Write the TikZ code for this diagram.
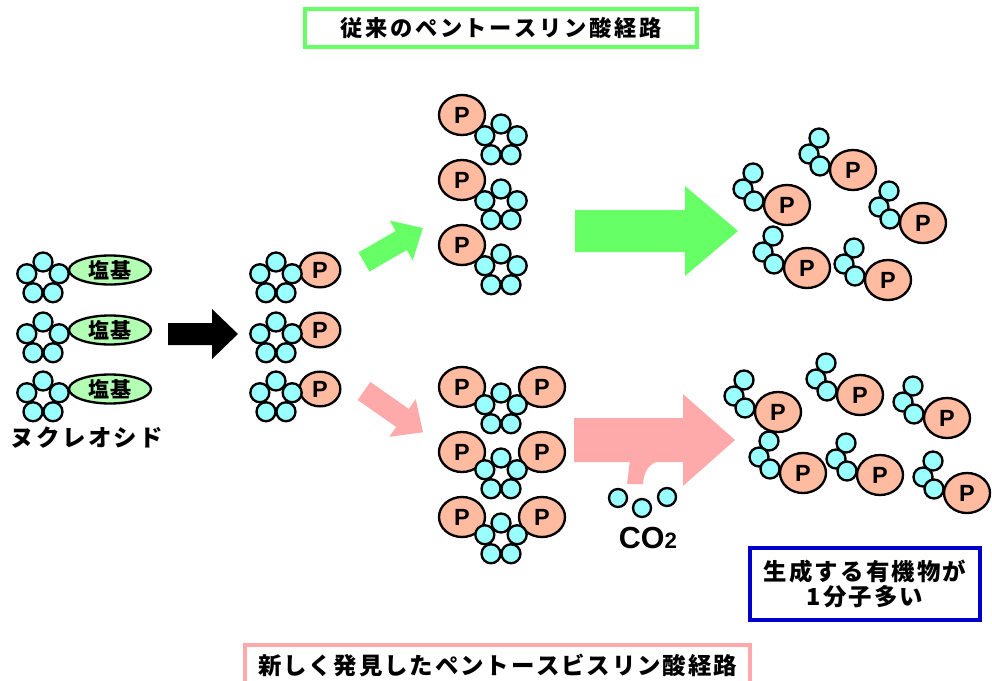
\documentclass[tikz,border=0pt]{standalone}
\usepackage{fontspec}
\setmainfont{Liberation Sans}
\newfontfamily\jpfont{Noto Sans CJK JP}[Kerning=Off]
\usetikzlibrary{shapes.geometric}

\definecolor{sugarbg}{HTML}{99FFFF}
\definecolor{basebg}{HTML}{B3FFB3}
\definecolor{phosbg}{HTML}{FFBBA0}
\definecolor{oldgreen}{HTML}{66FF66}
\definecolor{newpink}{HTML}{FFAAAA}
\definecolor{noteblue}{HTML}{0000CC}

\tikzset{
  sugar/.style={circle, draw, line width=2pt, fill=sugarbg,
                minimum size=0.57cm, inner sep=0pt},
  phos/.style={ellipse, draw, line width=2pt, fill=phosbg,
               minimum width=1.38cm, minimum height=1.2cm, inner sep=0pt,
               font=\fontsize{20}{20}\selectfont\bfseries},
  phossmall/.style={phos, minimum width=1.22cm, minimum height=1.04cm},
  nucbase/.style={ellipse, draw, line width=2pt, fill=basebg,
                  minimum width=2.46cm, minimum height=0.87cm, inner sep=0pt,
                  font=\jpfont\bfseries\fontsize{18}{18}\selectfont},
  labelbox/.style={draw, line width=3pt, fill=white, inner sep=0pt,
                   align=center},
  pentose/.pic={
    \foreach \a/\n in {-90/a, -18/b, 54/c, 126/d, 198/e}
      \node[sugar] (-\n) at (\a:17) {};
  },
  product/.pic={
    \node[phos] (-p) at (0,0) {P};
    \node[sugar] (-a) at (-34,-32) {};
    \node[sugar] (-b) at (-44,-16) {};
    \node[sugar] (-c) at (-33,-4) {};
  },
}

% fat arrow: colour, tail, angle, shaft length, shaft half width, head length, head half width
\newcommand\fatarrow[7]{%
  \fill[#1, shift={#2}, rotate=#3]
    (0,-#5) -- (#4,-#5) -- (#4,-#7) -- (#4+#6,0) -- (#4,#7) -- (#4,#5) -- (0,#5) -- cycle;
}

\begin{document}
\begin{tikzpicture}[x=0.03cm, y=-0.03cm]
  \useasboundingbox (0,0) rectangle (992,680);
  \clip (0,0) rectangle (992,680);

  %% pathway titles
  \node[labelbox, draw=oldgreen, minimum width=11.76cm, minimum height=1.14cm,
        font=\jpfont\bfseries\fontsize{19}{19}\selectfont\addfontfeature{LetterSpace=12}]
    (oldtitle) at (501,28) {従来のペントースリン酸経路};
  \node[labelbox, draw=newpink, minimum width=15.15cm, minimum height=1.2cm,
        font=\jpfont\bfseries\fontsize{20}{20}\selectfont\addfontfeature{LetterSpace=8}]
    (newtitle) at (497.5,665) {新しく発見したペントースビスリン酸経路};

  %% nucleosides
  \foreach \y [count=\i] in {270,330,389} {
    \node[nucbase] (nb\i) at (110,\y) {塩基};
    \pic (nuc\i) at (43,\y+9) {pentose};
  }
  \node[font=\jpfont\bfseries\fontsize{20}{20}\selectfont\addfontfeature{LetterSpace=10}]
    (nuclabel) at (87,438) {ヌクレオシド};

  \fatarrow{black}{(168,334)}{0}{44}{11}{26}{25}

  %% pentose monophosphates
  \foreach \y [count=\i] in {270,330,389} {
    \node[phossmall] (mp\i) at (320,\y) {P};
    \pic (mps\i) at (276,\y+9) {pentose};
  }

  %% conventional route
  \fatarrow{oldgreen}{(364,262)}{30}{43}{11}{25}{23}
  \foreach \y [count=\i] in {115,180,245} {
    \node[phos] (op\i) at (462,\y) {P};
    \pic (ops\i) at (501,\y+26) {pentose};
  }
  \fatarrow{oldgreen}{(575,231)}{0}{110}{21}{53}{45}
  \foreach \px/\py [count=\i] in {787/205, 853/170, 923/223, 807/268, 888/280}
    \pic (oldprod\i) at (\px,\py) {product};

  %% bisphosphate route
  \fatarrow{newpink}{(364,391)}{-35}{47}{11}{25}{23}
  \foreach \y [count=\i] in {387,452,517} {
    \node[phos] (bpl\i) at (462,\y) {P};
    \node[phos] (bpr\i) at (542,\y) {P};
    \pic (bps\i) at (501,\y+23) {pentose};
  }
  \fill[newpink] (627,484) -- (630,460) -- (662,460)
    .. controls (648,463) and (644,472) .. (643,484) -- cycle;
  \fatarrow{newpink}{(574,440)}{0}{109}{22}{52}{46}
  \foreach \px/\py [count=\i] in {778/412, 860/395, 947/418, 803/473, 880/475, 967/493}
    \pic (newprod\i) at (\px,\py) {product};

  %% released CO2
  \node[sugar, minimum size=0.54cm] (co1) at (618,498) {};
  \node[sugar, minimum size=0.54cm] (co2) at (642,508) {};
  \node[sugar, minimum size=0.54cm] (co3) at (667,497) {};
  \node[font=\fontsize{26}{26}\selectfont\bfseries] (colabel) at (648,538)
    {CO{\fontsize{19}{19}\selectfont 2}};

  %% note
  \node[labelbox, draw=noteblue, minimum width=6.9cm, minimum height=2.16cm,
        font=\jpfont\bfseries\fontsize{20}{22}\selectfont\addfontfeature{LetterSpace=9}]
    (note) at (865,584) {生成する有機物が\\1分子多い};
\end{tikzpicture}
\end{document}
